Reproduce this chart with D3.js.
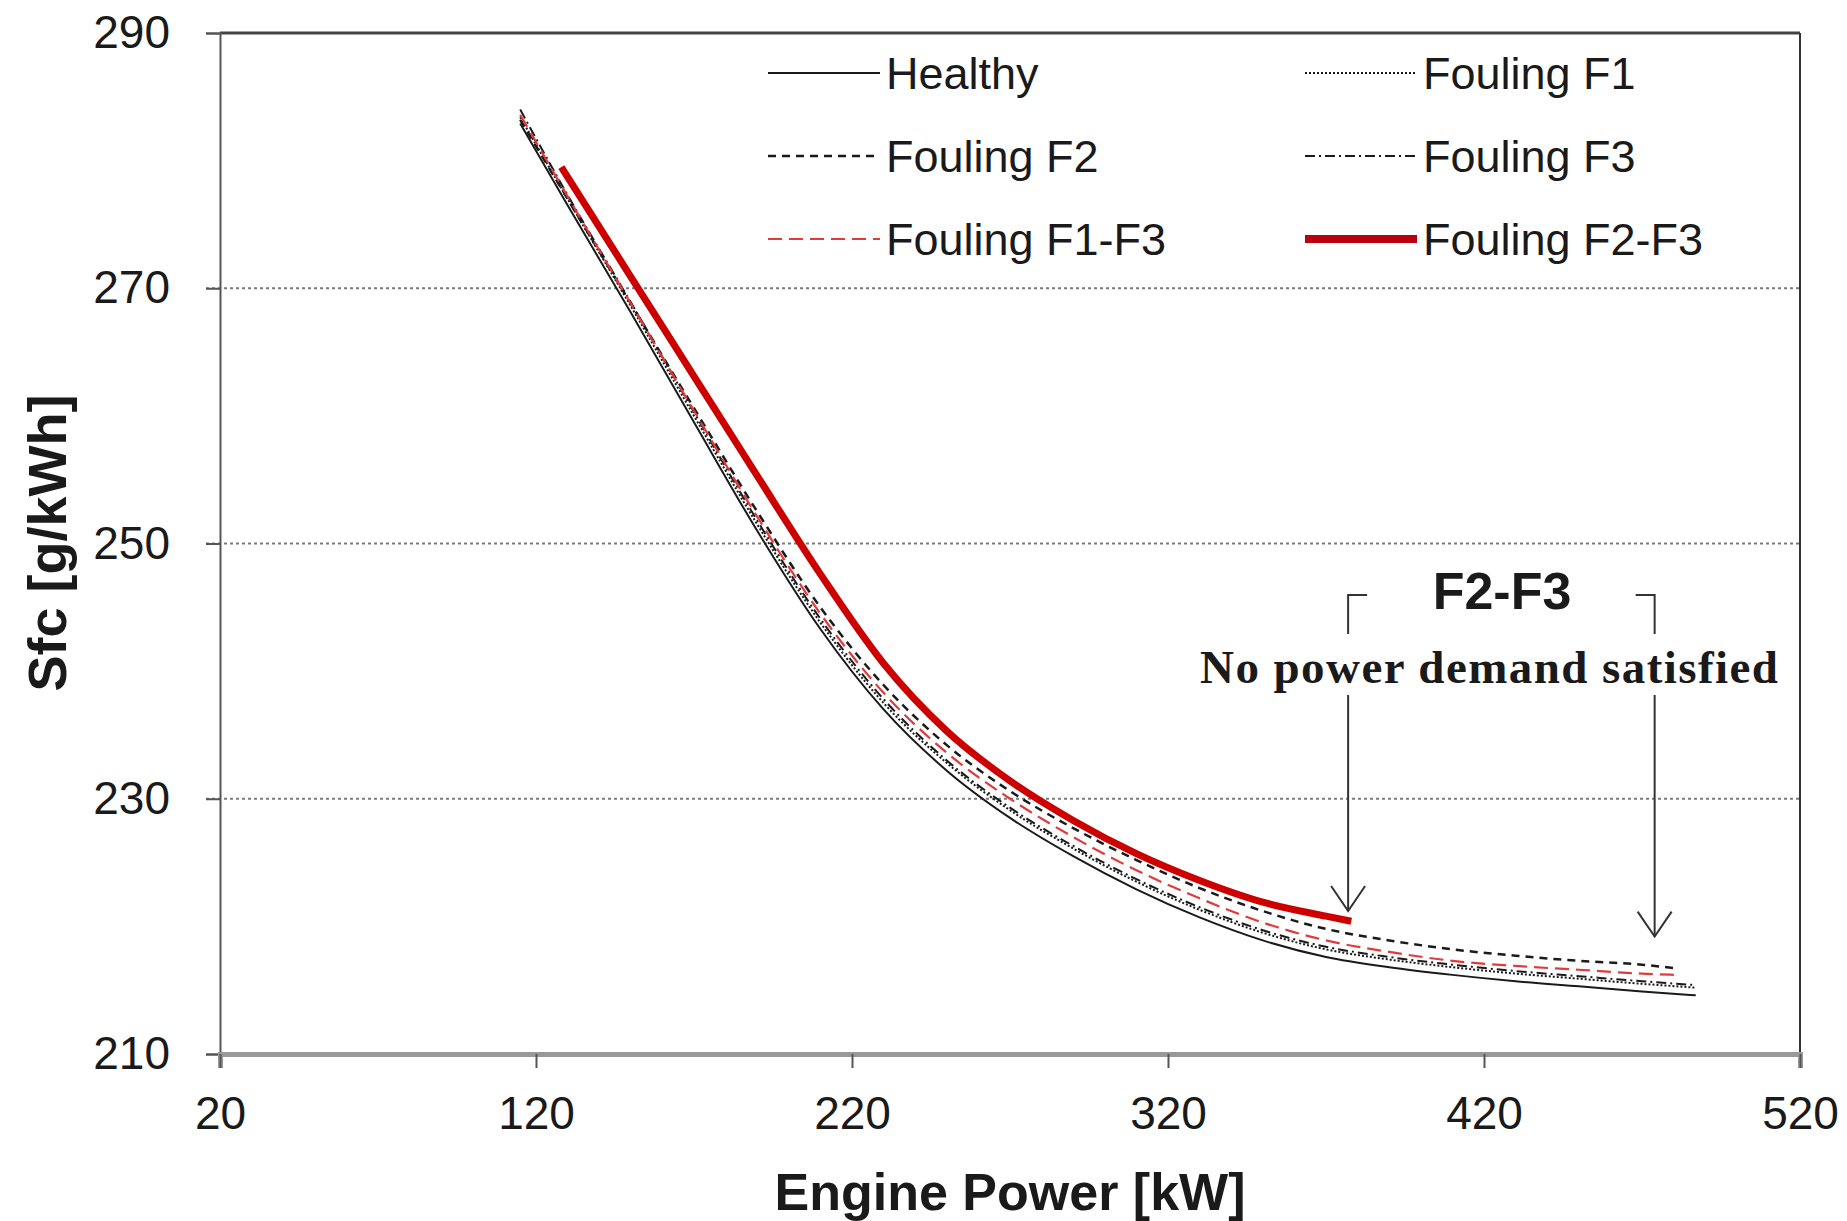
<!DOCTYPE html>
<html>
<head>
<meta charset="utf-8">
<script src="https://cdn.jsdelivr.net/npm/d3@7"></script>
<style>
  body { margin: 0; background: #fff; }
  svg { display: block; }
  text { font-family: "Liberation Sans", Arial, sans-serif; fill: #1a1a1a; }
</style>
</head>
<body>
<svg id="chart" width="1847" height="1221"></svg>
<script>
// x ticks / y ticks
const xTicks = [20, 120, 220, 320, 420, 520];
const yTicks = [210, 230, 250, 270, 290];

// engine power [kW] grids
const power      = [115, 130, 150, 170, 190, 210, 230, 250, 270, 290, 310, 330, 350, 370, 390, 410, 430, 450, 470, 487];
const powerShort = [115, 130, 150, 170, 190, 210, 230, 250, 270, 290, 310, 330, 350, 370, 390, 410, 430, 450, 470, 481];

// sfc [g/kWh]
const healthy = [282.9, 276.5, 268.1, 259.5, 251.0, 243.3, 237.0, 232.2, 228.5, 225.5, 222.9, 220.7, 218.9, 217.6, 216.8, 216.2, 215.7, 215.3, 214.9, 214.6];
const foulF1  = [283.4, 277.0, 268.6, 260.0, 251.5, 243.8, 237.5, 232.8, 229.1, 226.1, 223.5, 221.3, 219.5, 218.2, 217.4, 216.8, 216.3, 215.9, 215.5, 215.2];
const foulF3  = [284.0, 277.3, 268.9, 260.3, 251.8, 244.1, 237.8, 233.0, 229.3, 226.3, 223.7, 221.5, 219.7, 218.4, 217.6, 217.0, 216.5, 216.1, 215.7, 215.4];
const foulF2  = [283.2, 277.0, 268.8, 260.6, 252.5, 245.0, 238.9, 234.2, 230.6, 227.7, 225.2, 223.0, 221.2, 219.8, 218.9, 218.2, 217.7, 217.3, 217.0, 216.7];
const foulF13 = [283.6, 277.2, 268.8, 260.4, 252.1, 244.5, 238.3, 233.6, 230.0, 227.0, 224.4, 222.2, 220.3, 218.9, 218.0, 217.3, 216.9, 216.6, 216.3, 216.2];

// F2-F3 stops early (power demand not satisfied)
const powerF23 = [128, 150, 170, 190, 210, 230, 250, 270, 290, 310, 330, 350, 370, 378];
const foulF23  = [279.5, 270.9, 263.1, 255.3, 247.6, 240.6, 235.3, 231.4, 228.3, 225.7, 223.6, 221.9, 220.8, 220.4];

// where the two annotation arrows point (kW, g/kWh)
const arrowPower = [377, 474];
const arrowSfc = [221.2, 219.2];

const series = [
  { name: "Healthy",       x: power,      y: healthy, color: "#1a1a1a", width: 2,   dash: null },
  { name: "Fouling F1",    x: power,      y: foulF1,  color: "#1a1a1a", width: 2,   dash: "2,2" },
  { name: "Fouling F2",    x: powerShort, y: foulF2,  color: "#1a1a1a", width: 2.5, dash: "8,6" },
  { name: "Fouling F3",    x: power,      y: foulF3,  color: "#1a1a1a", width: 2,   dash: "10,4,2,4" },
  { name: "Fouling F1-F3", x: powerShort, y: foulF13, color: "#e23a3a", width: 2.2, dash: "14,7" },
  { name: "Fouling F2-F3", x: powerF23,   y: foulF23, color: "#cc0000", width: 7,   dash: null }
];

const svg = d3.select("#chart");
const plotL = 220, plotR = 1800, plotT = 33, plotB = 1054;

const x = d3.scaleLinear().domain([20, 520]).range([plotL, plotR]);
const y = d3.scaleLinear().domain([210, 290]).range([plotB, plotT]);

svg.append("rect").attr("width", 1847).attr("height", 1221).attr("fill", "#fff");

// dotted gridlines
svg.append("g")
  .selectAll("line")
  .data(yTicks.filter(d => d > 210 && d < 290))
  .enter().append("line")
  .attr("x1", plotL - 14).attr("x2", plotR)
  .attr("y1", d => y(d)).attr("y2", d => y(d))
  .attr("stroke", "#7a7a7a")
  .attr("stroke-width", 2)
  .attr("stroke-dasharray", "3,3");

// plot box: top + right
svg.append("line").attr("x1", plotL).attr("x2", plotR).attr("y1", plotT).attr("y2", plotT)
  .attr("stroke", "#444").attr("stroke-width", 3);
svg.append("line").attr("x1", plotR).attr("x2", plotR).attr("y1", plotT).attr("y2", plotB)
  .attr("stroke", "#333").attr("stroke-width", 2);

// y axis
const yAxis = svg.append("g")
  .attr("transform", `translate(${plotL},0)`)
  .call(d3.axisLeft(y).tickValues(yTicks).tickSize(14).tickPadding(36));
yAxis.select(".domain").attr("stroke", "#555").attr("stroke-width", 2);
yAxis.selectAll(".tick line").attr("stroke", "#555").attr("stroke-width", 2);
yAxis.selectAll("text")
  .style("font-family", "'Liberation Sans', Arial, sans-serif")
  .style("font-size", "46px").attr("fill", "#222");

// x axis
const xAxis = svg.append("g")
  .attr("transform", `translate(0,${plotB})`)
  .call(d3.axisBottom(x).tickValues(xTicks).tickSize(14).tickPadding(28));
xAxis.select(".domain").attr("stroke", "#999").attr("stroke-width", 5);
xAxis.selectAll(".tick line").attr("stroke", "#555").attr("stroke-width", 2);
xAxis.selectAll("text")
  .style("font-family", "'Liberation Sans', Arial, sans-serif")
  .style("font-size", "46px").attr("fill", "#222");

// axis titles
svg.append("text")
  .attr("x", (plotL + plotR) / 2).attr("y", 1210)
  .attr("text-anchor", "middle")
  .style("font-size", "52px").style("font-weight", "bold")
  .text("Engine Power [kW]");

svg.append("text")
  .attr("transform", "translate(66,543) rotate(-90)")
  .attr("text-anchor", "middle")
  .style("font-size", "54px").style("font-weight", "bold")
  .text("Sfc [g/kWh]");

// curves
const line = d3.line().curve(d3.curveMonotoneX);

svg.append("g")
  .selectAll("path")
  .data(series)
  .enter().append("path")
  .attr("d", s => line(s.x.map((p, i) => [x(p), y(s.y[i])])))
  .attr("fill", "none")
  .attr("stroke", s => s.color)
  .attr("stroke-width", s => s.width)
  .attr("stroke-dasharray", s => s.dash)
  .attr("stroke-linecap", "butt");

// legend, 2 columns x 3 rows
const legend = svg.append("g")
  .selectAll("g")
  .data(series)
  .enter().append("g")
  .attr("transform", (s, i) => `translate(${i % 2 === 0 ? 768 : 1305},${73 + Math.floor(i / 2) * 83})`);

legend.append("line")
  .attr("x1", 0).attr("x2", 112).attr("y1", 0).attr("y2", 0)
  .attr("stroke", (s, i) => i === 5 ? "#b8000f" : s.color)
  .attr("stroke-width", s => s.width === 7 ? 8 : s.width)
  .attr("stroke-dasharray", s => s.dash);

legend.append("text")
  .attr("x", 118).attr("y", 0).attr("dy", "0.36em")
  .style("font-size", "45px")
  .text(s => s.name);

// annotation
svg.append("text")
  .attr("x", 1502).attr("y", 609)
  .attr("text-anchor", "middle")
  .style("font-size", "52px").style("font-weight", "bold")
  .text("F2-F3");

svg.append("text")
  .attr("x", 1489).attr("y", 683)
  .attr("text-anchor", "middle")
  .style("font-family", "'Liberation Serif', 'Times New Roman', serif")
  .style("font-size", "47px").style("font-weight", "bold")
  .attr("textLength", 578).attr("lengthAdjust", "spacing")
  .text("No power demand satisfied");

const ann = svg.append("g").attr("stroke", "#333").attr("stroke-width", 2).attr("fill", "none");
const bTop = 595, bMid = 634, bLow = 695;
arrowPower.forEach((p, i) => {
  const ax = x(p), ay = y(arrowSfc[i]);
  const hook = i === 0 ? 19 : -19;
  ann.append("path").attr("d", `M${ax + hook},${bTop} H${ax} V${bMid}`);
  ann.append("line").attr("x1", ax).attr("x2", ax).attr("y1", bLow).attr("y2", ay);
  ann.append("path").attr("d", `M${ax - 17},${ay - 25} L${ax},${ay} L${ax + 17},${ay - 25}`);
});
</script>
</body>
</html>
